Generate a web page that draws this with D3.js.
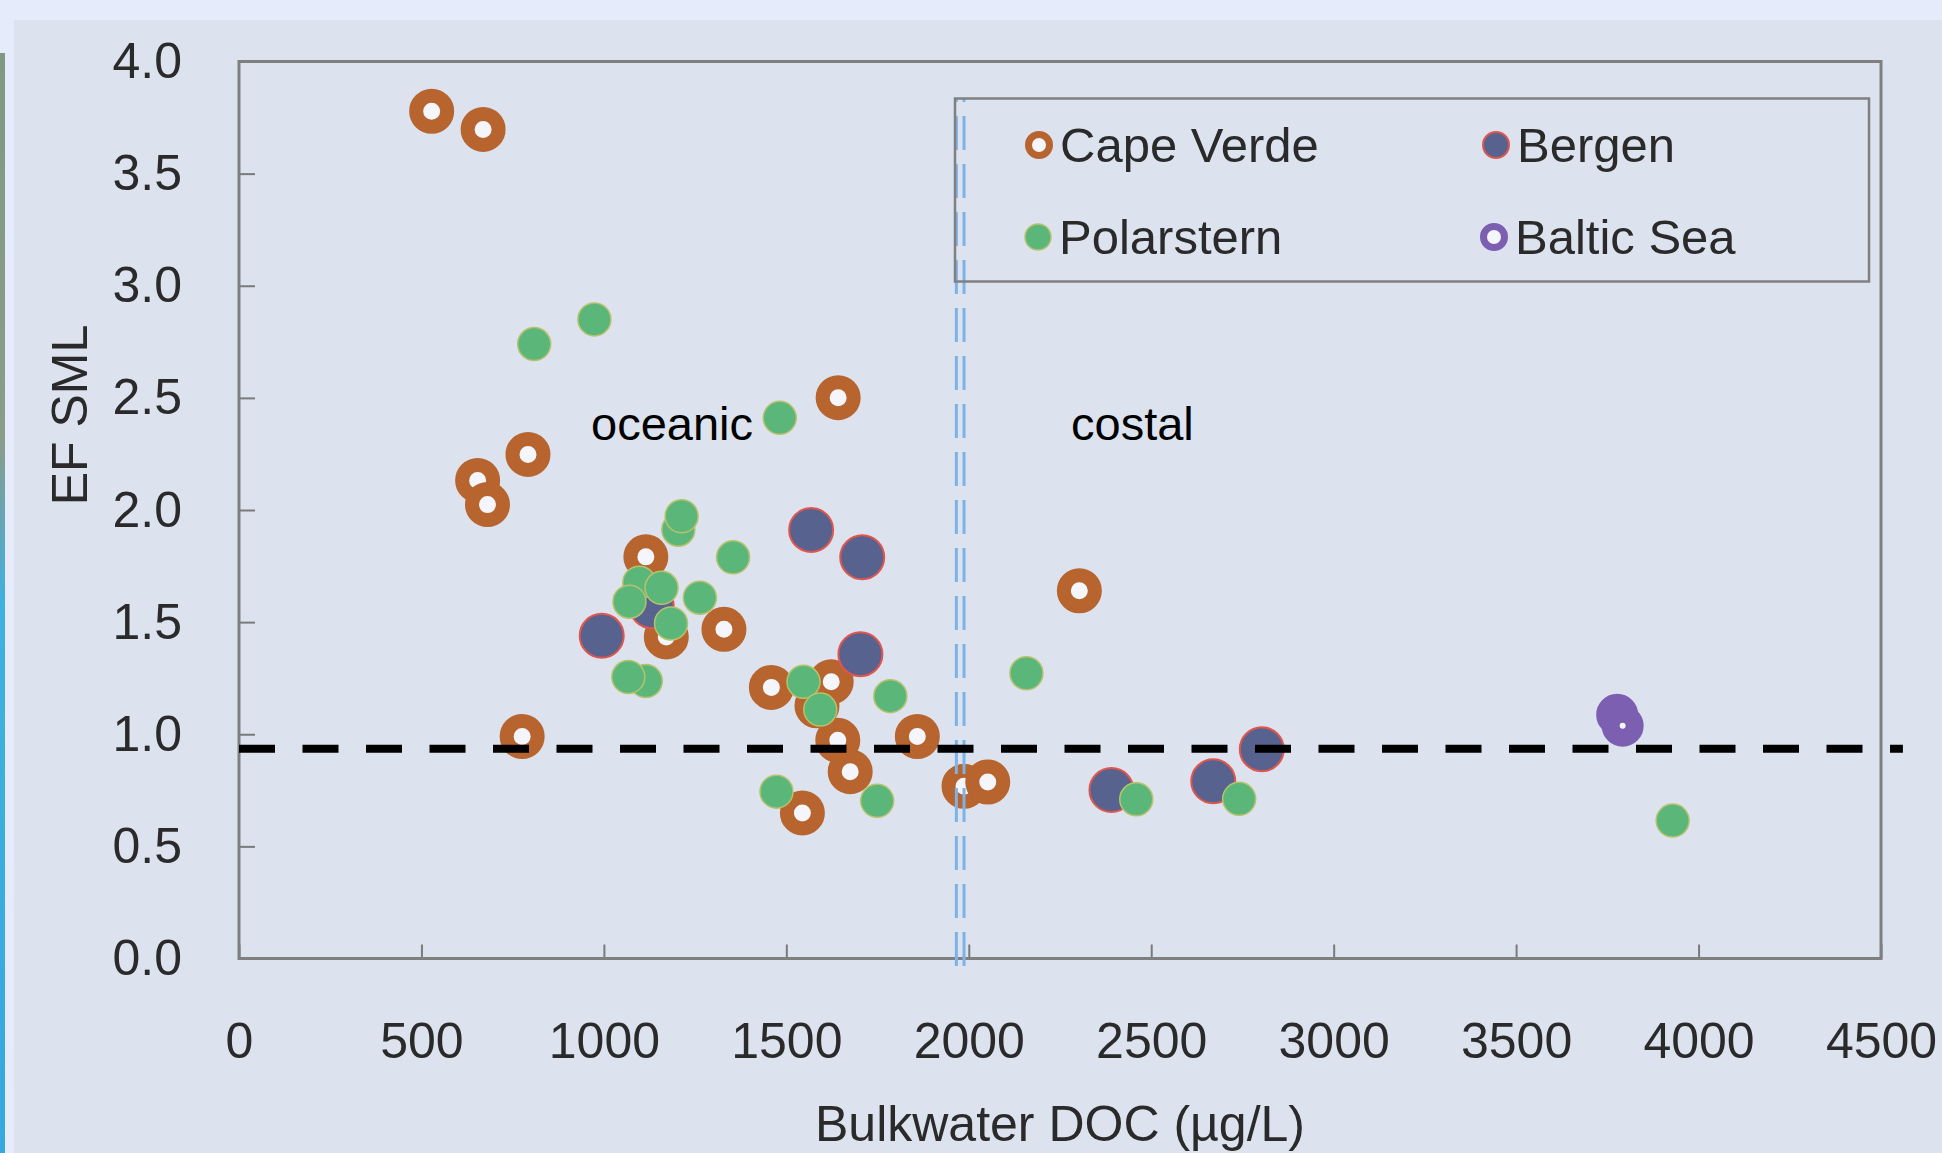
<!DOCTYPE html>
<html>
<head>
<meta charset="utf-8">
<title>EF SML vs Bulkwater DOC</title>
<script src="https://d3js.org/d3.v7.min.js"></script>
<style>
  body { margin: 0; background: #e5ebfa; }
  svg { display: block; }
  text { font-family: "Liberation Sans", Arial, sans-serif; }
</style>
</head>
<body>
<script>
// data
var capeVerdeX = [528, 669, 792, 654, 681, 1642, 1115, 1171, 1329, 776, 1459, 1584, 1623, 1641, 1675, 1859, 1544, 1987, 2052, 2303];
var capeVerdeY = [3.778, 3.697, 2.248, 2.132, 2.024, 2.501, 1.791, 1.434, 1.468, 0.99, 1.209, 1.127, 1.234, 0.973, 0.833, 0.99, 0.649, 0.768, 0.787, 1.64];

var bergenX = [994, 1131, 1568, 1708, 1703, 2391, 2670, 2803];
var bergenY = [1.439, 1.571, 1.911, 1.789, 1.357, 0.751, 0.790, 0.933];

var polarsternX = [809, 974, 1482, 1204, 1213, 1354, 1097, 1158, 1070, 1263, 1184, 1115, 1067, 1547, 1593, 1785, 1473, 1749, 2158, 2459, 2741, 3929];
var polarsternY = [2.740, 2.850, 2.411, 1.912, 1.972, 1.789, 1.676, 1.653, 1.591, 1.609, 1.494, 1.237, 1.255, 1.234, 1.110, 1.170, 0.744, 0.703, 1.272, 0.710, 0.712, 0.615];

var balticX = [3777, 3792];
var balticY = [1.087, 1.038];

var xTicks = [0, 500, 1000, 1500, 2000, 2500, 3000, 3500, 4000, 4500];
var yTicks = [0, 0.5, 1.0, 1.5, 2.0, 2.5, 3.0, 3.5, 4.0];

var thresholdEF = 0.935;        // horizontal dashed line
var thresholdEnd = 4560;
var boundaryDOC = [1966, 1987]; // oceanic / costal split (double line)

var W = 1942, H = 1153;
var margin = { top: 61.5, right: 61, bottom: 194, left: 239 };

var svg = d3.select("body").append("svg")
    .attr("width", W)
    .attr("height", H);

// background panel + left photo sliver
var grad = svg.append("defs").append("linearGradient")
    .attr("id", "sliver").attr("x1", 0).attr("y1", 0).attr("x2", 0).attr("y2", 1);
grad.append("stop").attr("offset", "0").attr("stop-color", "#7f9a84");
grad.append("stop").attr("offset", "0.35").attr("stop-color", "#8a9c8a");
grad.append("stop").attr("offset", "0.5").attr("stop-color", "#3fb0e0");
grad.append("stop").attr("offset", "1").attr("stop-color", "#35a8dd");
svg.append("rect").attr("x", 14).attr("y", 20).attr("width", W - 14).attr("height", H - 20).attr("fill", "#dce3ee");
svg.append("rect").attr("x", 0).attr("y", 53).attr("width", 5).attr("height", H - 53).attr("fill", "url(#sliver)");

var x = d3.scaleLinear().domain([0, 4500]).range([margin.left, W - margin.right]);
var y = d3.scaleLinear().domain([0, 4]).range([H - margin.bottom - 0.5, margin.top]);

// axes
var xAxis = svg.append("g")
    .attr("transform", "translate(0," + y(0) + ")")
    .call(d3.axisBottom(x).tickValues(xTicks).tickSizeInner(-14).tickSizeOuter(0).tickPadding(64).tickFormat(d3.format("d")));
var yAxis = svg.append("g")
    .attr("transform", "translate(" + x(0) + ",0)")
    .call(d3.axisLeft(y).tickValues(yTicks).tickSizeInner(-16).tickSizeOuter(0).tickPadding(57).tickFormat(d3.format(".1f")));
[xAxis, yAxis].forEach(function(g) {
  g.select(".domain").remove();
  g.selectAll(".tick line").attr("stroke", "#7a7a7a").attr("stroke-width", 2);
  g.selectAll(".tick text").attr("fill", "#2a2a2a").style("font-size", "50px");
});

// plot frame
svg.append("rect")
    .attr("x", x(0)).attr("y", y(4))
    .attr("width", x(4500) - x(0)).attr("height", y(0) - y(4))
    .attr("fill", "none").attr("stroke", "#7f7f7f").attr("stroke-width", 3);

// axis titles
svg.append("text")
    .attr("x", (x(0) + x(4500)) / 2).attr("y", 1141)
    .attr("text-anchor", "middle").attr("fill", "#2a2a2a")
    .style("font-size", "50px")
    .text("Bulkwater DOC (µg/L)");
svg.append("text")
    .attr("transform", "translate(87,415) rotate(-90)")
    .attr("text-anchor", "middle").attr("fill", "#2a2a2a")
    .style("font-size", "50px")
    .text("EF SML");

// region labels
svg.append("text").attr("x", 591).attr("y", 440).style("font-size", "47px").attr("fill", "#000").text("oceanic");
svg.append("text").attr("x", 1071).attr("y", 440).style("font-size", "47px").attr("fill", "#000").text("costal");

function pts(xs, ys) { return xs.map(function(v, i) { return [v, ys[i]]; }); }

// Cape Verde rings
svg.append("g").selectAll("circle")
    .data(pts(capeVerdeX, capeVerdeY)).enter().append("circle")
    .attr("cx", function(d) { return x(d[0]); })
    .attr("cy", function(d) { return y(d[1]); })
    .attr("r", 15.5)
    .attr("fill", "#f4f6fb")
    .attr("stroke", "#b7642f")
    .attr("stroke-width", 14);

// Bergen
svg.append("g").selectAll("circle")
    .data(pts(bergenX, bergenY)).enter().append("circle")
    .attr("cx", function(d) { return x(d[0]); })
    .attr("cy", function(d) { return y(d[1]); })
    .attr("r", 22)
    .attr("fill", "#58628e")
    .attr("stroke", "#e0564e")
    .attr("stroke-width", 2);

// Polarstern
svg.append("g").selectAll("circle")
    .data(pts(polarsternX, polarsternY)).enter().append("circle")
    .attr("cx", function(d) { return x(d[0]); })
    .attr("cy", function(d) { return y(d[1]); })
    .attr("r", 16.5)
    .attr("fill", "#5bb67a")
    .attr("stroke", "#b7c26c")
    .attr("stroke-width", 1.5);

// Baltic Sea
svg.append("g").selectAll("circle")
    .data(pts(balticX, balticY)).enter().append("circle")
    .attr("cx", function(d) { return x(d[0]); })
    .attr("cy", function(d) { return y(d[1]); })
    .attr("r", 12)
    .attr("fill", "#f4f6fb")
    .attr("stroke", "#7c5fb1")
    .attr("stroke-width", 18);

// double dashed boundary
svg.append("g").selectAll("line")
    .data(boundaryDOC).enter().append("line")
    .attr("x1", function(d) { return x(d); }).attr("x2", function(d) { return x(d); })
    .attr("y1", 98).attr("y2", 967)
    .attr("stroke", "#7db3e6").attr("stroke-width", 3)
    .attr("stroke-dasharray", "34,14").attr("stroke-dashoffset", 30);

// threshold dashed line
svg.append("line")
    .attr("x1", x(0)).attr("x2", x(thresholdEnd))
    .attr("y1", y(thresholdEF)).attr("y2", y(thresholdEF))
    .attr("stroke", "#000").attr("stroke-width", 8)
    .attr("stroke-dasharray", "36,27.5");

// legend
var lg = svg.append("g");
lg.append("rect").attr("x", 955).attr("y", 98.5).attr("width", 914).attr("height", 183)
    .attr("fill", "none").attr("stroke", "#808080").attr("stroke-width", 2.5);
var legendItems = [
  { name: "Cape Verde", cx: 1039, cy: 145, type: "ring", color: "#b7642f" },
  { name: "Bergen", cx: 1496, cy: 145, type: "bergen" },
  { name: "Polarstern", cx: 1038, cy: 237, type: "dot" },
  { name: "Baltic Sea", cx: 1494, cy: 237, type: "ring", color: "#7c5fb1" }
];
legendItems.forEach(function(it) {
  var c = lg.append("circle").attr("cx", it.cx).attr("cy", it.cy);
  if (it.type === "ring") {
    c.attr("r", 10.5).attr("fill", "#f4f6fb").attr("stroke", it.color).attr("stroke-width", 7);
  } else if (it.type === "bergen") {
    c.attr("r", 13).attr("fill", "#58628e").attr("stroke", "#e0564e").attr("stroke-width", 2);
  } else {
    c.attr("r", 13).attr("fill", "#5bb67a").attr("stroke", "#b7c26c").attr("stroke-width", 1.5);
  }
  lg.append("text").attr("x", it.cx + 21).attr("y", it.cy + 17)
    .attr("fill", "#2a2a2a").style("font-size", "49px").text(it.name);
});
</script>
</body>
</html>
